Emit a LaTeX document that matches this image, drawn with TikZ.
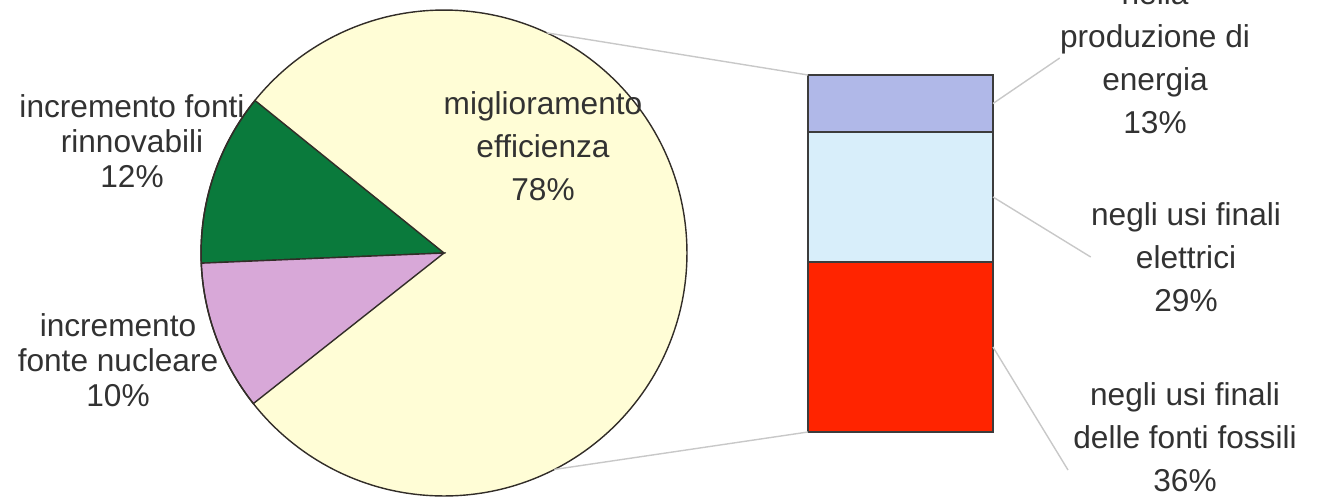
\documentclass[tikz,border=0pt]{standalone}
\usepackage{fontspec}
\setmainfont{Liberation Sans}
\definecolor{pieyellow}{RGB}{255,253,214}
\definecolor{piegreen}{RGB}{10,122,60}
\definecolor{piepurple}{RGB}{216,168,216}
\definecolor{pieline}{RGB}{50,45,40}
\definecolor{barblue}{RGB}{176,184,232}
\definecolor{barcyan}{RGB}{216,238,250}
\definecolor{barred}{RGB}{255,36,0}
\definecolor{barline}{RGB}{60,60,60}
\definecolor{leadgray}{RGB}{200,200,200}
\definecolor{textgray}{RGB}{50,50,50}

\begin{document}
\begin{tikzpicture}[x=0.02cm, y=-0.02cm]
		\tikzstyle {slice} = [draw=pieline, line width=0.8pt]
		\tikzstyle {barseg} = [draw=barline, line width=1.2pt, minimum width=3.7cm, inner sep=0, outer sep=0]
		\tikzstyle {leader} = [draw=leadgray, line width=0.8pt]
		\tikzstyle {tight text} = [text=textgray, align=center, inner sep=0, font=\fontsize{18}{20}\selectfont]
		\tikzstyle {wide text} = [text=textgray, align=center, inner sep=0, font=\fontsize{18}{24.5}\selectfont]

		\useasboundingbox (0,0) rectangle (1327,501);
		\clip (0,0) rectangle (1327,501);

		% pie
		\coordinate (c) at (444,253);
		\fill[pieyellow] (c) circle[radius=4.86cm];
		\filldraw[slice, fill=piegreen] (c) -- ++(141.1:4.86cm) arc[start angle=141.1, end angle=182.4, radius=4.86cm] -- cycle;
		\filldraw[slice, fill=piepurple] (c) -- ++(182.4:4.86cm) arc[start angle=182.4, end angle=218.3, radius=4.86cm] -- cycle;
		\draw[slice] (c) circle[radius=4.86cm];
		\path (c) ++(65:4.86cm) coordinate (pieA);
		\path (c) ++(-63:4.86cm) coordinate (pieB);

		\node[tight text] (ren) at (132,141) {incremento fonti\\rinnovabili\\12\%};
		\node[tight text] (nuc) at (118,360) {incremento\\fonte nucleare\\10\%};
		\node[wide text] (eff) at (543,146) {miglioramento\\efficienza\\78\%};

		% bar
		\node[barseg, fill=barblue, minimum height=1.14cm] (seg13) at (900.5,103.5) {};
		\node[barseg, fill=barcyan, minimum height=2.6cm] (seg29) at (900.5,197) {};
		\node[barseg, fill=barred, minimum height=3.4cm] (seg36) at (900.5,347) {};

		\node[wide text] (lab13) at (1155,58) {nella\\produzione di\\energia\\13\%};
		\node[wide text] (lab29) at (1186,257) {negli usi finali\\elettrici\\29\%};
		\node[wide text] (lab36) at (1185,437) {negli usi finali\\delle fonti fossili\\36\%};
		\coordinate (tip36) at (1068,470);

		\draw[leader] (pieA) -- (seg13.north west);
		\draw[leader] (pieB) -- (seg36.south west);
		\draw[leader] (seg13.east) -- (lab13.west);
		\draw[leader] (seg29.east) -- (lab29.west);
		\draw[leader] (seg36.east) -- (tip36);
\end{tikzpicture}
\end{document}
